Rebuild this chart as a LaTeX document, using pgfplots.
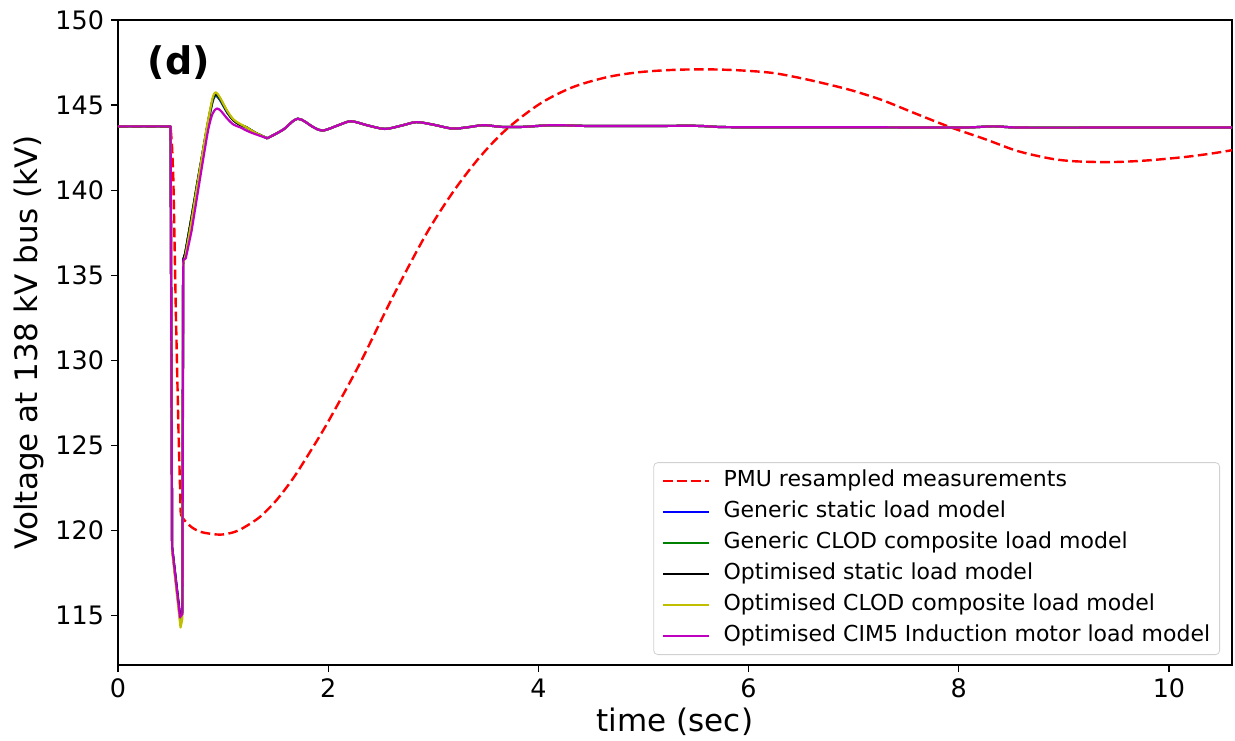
\documentclass[border=0pt]{standalone}
\usepackage{pgfplots}
\pgfplotsset{compat=1.18}
\usepackage{pgfplotstable}
\usepackage{fontspec}
\setmainfont{DejaVu Sans}

% PMU measurement: sharp drop, then smooth part
\pgfplotstableread{
t v
0 143.75
0.50 143.75
0.515 142.5
0.527 140.6
0.55 133.0
0.575 126.0
0.597 121.0
}\pmuA
\pgfplotstableread{
t v
0.597 121.0
0.62 120.7
0.70 120.2
0.80 119.9
0.97 119.76
1.10 119.9
1.19 120.15
1.35 120.8
1.51 121.8
1.67 123.1
1.83 124.65
2.00 126.4
2.30 129.8
2.62 133.8
2.94 137.5
3.20 140.0
3.45 142.0
3.70 143.6
4.02 145.1
4.33 146.06
4.66 146.65
4.97 146.94
5.29 147.07
5.61 147.1
5.92 147.04
6.24 146.88
6.56 146.5
6.90 146.0
7.07 145.7
7.29 145.25
7.61 144.45
7.92 143.7
8.25 143.0
8.56 142.3
8.88 141.85
9.10 141.7
9.39 141.65
9.60 141.68
9.84 141.77
10.15 141.95
10.40 142.15
10.60 142.35
}\pmuB

% shared tail of the simulated responses
\pgfplotstableread{
t v
1.42 143.05
1.57 143.55
1.71 144.2
1.86 143.7
1.95 143.5
2.11 143.85
2.22 144.05
2.38 143.8
2.54 143.6
2.70 143.8
2.84 144.0
3.00 143.85
3.18 143.62
3.33 143.7
3.48 143.82
3.65 143.72
3.85 143.72
4.14 143.82
4.50 143.77
5.00 143.77
5.50 143.78
5.75 143.71
6.20 143.70
7.00 143.70
8.00 143.68
8.33 143.75
8.60 143.68
9.50 143.68
10.60 143.68
}\tail

% generic static
\pgfplotstableread{
t v
0 143.75
0.50 143.75
0.515 119.0
0.59 115.0
0.612 115.2
0.62 135.9
0.64 136.3
0.70 138.4
0.76 140.6
}\bluA
\pgfplotstableread{
t v
0.76 140.6
0.80 142.0
0.85 143.7
0.90 145.2
0.93 145.55
0.97 145.3
1.04 144.55
1.10 144.1
1.16 143.85
1.22 143.7
1.30 143.4
1.42 143.05
}\bluB
% generic CLOD
\pgfplotstableread{
t v
0 143.75
0.50 143.75
0.515 119.0
0.59 114.8
0.612 115.1
0.62 135.9
0.64 136.3
0.70 138.4
0.76 140.6
}\grnA
\pgfplotstableread{
t v
0.76 140.6
0.80 142.0
0.85 143.75
0.90 145.25
0.93 145.6
0.97 145.35
1.04 144.6
1.10 144.1
1.16 143.85
1.22 143.7
1.30 143.4
1.42 143.05
}\grnB
% optimised static
\pgfplotstableread{
t v
0 143.75
0.50 143.75
0.515 119.0
0.59 115.0
0.612 115.2
0.62 135.9
0.64 136.3
0.70 138.4
0.76 140.6
}\blkA
\pgfplotstableread{
t v
0.76 140.6
0.80 142.0
0.85 143.8
0.90 145.3
0.93 145.65
0.97 145.4
1.04 144.6
1.10 144.1
1.16 143.85
1.22 143.7
1.30 143.4
1.42 143.05
}\blkB
% optimised CLOD
\pgfplotstableread{
t v
0 143.75
0.50 143.75
0.515 118.8
0.595 114.3
0.612 114.8
0.62 135.7
0.64 136.1
0.70 138.2
0.76 140.5
}\yelA
\pgfplotstableread{
t v
0.76 140.5
0.80 142.0
0.85 143.85
0.90 145.4
0.93 145.75
0.97 145.45
1.04 144.65
1.10 144.15
1.16 143.9
1.22 143.7
1.30 143.4
1.42 143.05
}\yelB
% optimised CIM5
\pgfplotstableread{
t v
0 143.75
0.50 143.75
0.515 119.0
0.59 114.9
0.612 115.1
0.622 135.9
0.645 136.0
0.70 137.6
0.76 139.9
}\magA
\pgfplotstableread{
t v
0.76 139.9
0.81 141.8
0.86 143.6
0.90 144.5
0.94 144.8
0.98 144.65
1.04 144.2
1.10 143.85
1.16 143.7
1.26 143.4
1.42 143.05
}\magB

\definecolor{mplgreen}{rgb}{0,0.5,0}
\definecolor{mplyellow}{rgb}{0.75,0.75,0}
\definecolor{mplmag}{rgb}{0.75,0,0.75}

\begin{document}
\begin{tikzpicture}
\begin{axis}[
  name=ax,
  scale only axis, width=557pt, height=322.5pt,
  xmin=0, xmax=10.6, ymin=112.1, ymax=150,
  xtick={0,2,4,6,8,10}, ytick={115,120,125,130,135,140,145,150},
  tick align=outside, xtick pos=left, ytick pos=left,
  major tick length=3.5pt,
  tick style={black, line width=0.6pt},
  axis line style={line width=0.6pt},
  ticklabel style={font=\fontsize{12.7}{13}\selectfont},
  /pgf/number format/assume math mode=true,
  xlabel={time (sec)}, ylabel={Voltage at 138 kV bus (kV)},
  label style={font=\fontsize{15.5}{16}\selectfont},
  xlabel style={at={(rel axis cs:0.5,0)}, yshift=-28.5pt, anchor=center},
  ylabel style={at={(rel axis cs:0,0.5)}, yshift=44.5pt, anchor=center},
  legend cell align=left,
  legend image code/.code={\draw[#1] (0pt,0pt) -- (23pt,0pt); \path (-3.5pt,0pt) (25.5pt,0pt);},
  legend style={at={(rel axis cs:1,0)}, anchor=south east, xshift=-6pt, yshift=5pt,
    draw=black!18, rounded corners=2pt, fill=white,
    font=\fontsize{11}{11}\selectfont,
    inner xsep=0.5pt, inner ysep=4pt, row sep=5pt,
    nodes={inner xsep=4.25pt, inner ysep=0pt, text height=8pt, text depth=2.5pt}},
  every axis plot/.append style={line join=round},
]
\addplot[red, line width=1.2pt, dash pattern=on 4.8pt off 2.2pt] table[x=t,y=v] {\pmuA};
\addlegendentry{PMU resampled measurements}
\addplot[red, line width=1.2pt, dash pattern=on 4.8pt off 2.2pt, smooth, forget plot] table[x=t,y=v] {\pmuB};

\addplot[blue, line width=1.1pt] table[x=t,y=v] {\bluA};
\addlegendentry{Generic static load model}
\addplot[blue, line width=1.1pt, smooth, forget plot] table[x=t,y=v] {\bluB};
\addplot[blue, line width=1.1pt, smooth, forget plot] table[x=t,y=v] {\tail};

\addplot[mplgreen, line width=1.1pt] table[x=t,y=v] {\grnA};
\addlegendentry{Generic CLOD composite load model}
\addplot[mplgreen, line width=1.1pt, smooth, forget plot] table[x=t,y=v] {\grnB};
\addplot[mplgreen, line width=1.1pt, smooth, forget plot] table[x=t,y=v] {\tail};

\addplot[black, line width=1.1pt] table[x=t,y=v] {\blkA};
\addlegendentry{Optimised static load model}
\addplot[black, line width=1.1pt, smooth, forget plot] table[x=t,y=v] {\blkB};
\addplot[black, line width=1.1pt, smooth, forget plot] table[x=t,y=v] {\tail};

\addplot[mplyellow, line width=1.1pt] table[x=t,y=v] {\yelA};
\addlegendentry{Optimised CLOD composite load model}
\addplot[mplyellow, line width=1.1pt, smooth, forget plot] table[x=t,y=v] {\yelB};
\addplot[mplyellow, line width=1.1pt, smooth, forget plot] table[x=t,y=v] {\tail};

\addplot[mplmag, line width=1.1pt] table[x=t,y=v] {\magA};
\addlegendentry{Optimised CIM5 Induction motor load model}
\addplot[mplmag, line width=1.1pt, smooth, forget plot] table[x=t,y=v] {\magB};
\addplot[mplmag, line width=1.1pt, smooth, forget plot] table[x=t,y=v] {\tail};

\node[font=\fontsize{19}{19}\bfseries\selectfont] at (axis cs:0.58,147.5) {(d)};
\end{axis}
\pgfresetboundingbox
\useasboundingbox ([shift={(-59pt,-37.5pt)}]ax.south west) rectangle ([shift={(1.5pt,10pt)}]ax.north east);
\end{tikzpicture}
\end{document}
